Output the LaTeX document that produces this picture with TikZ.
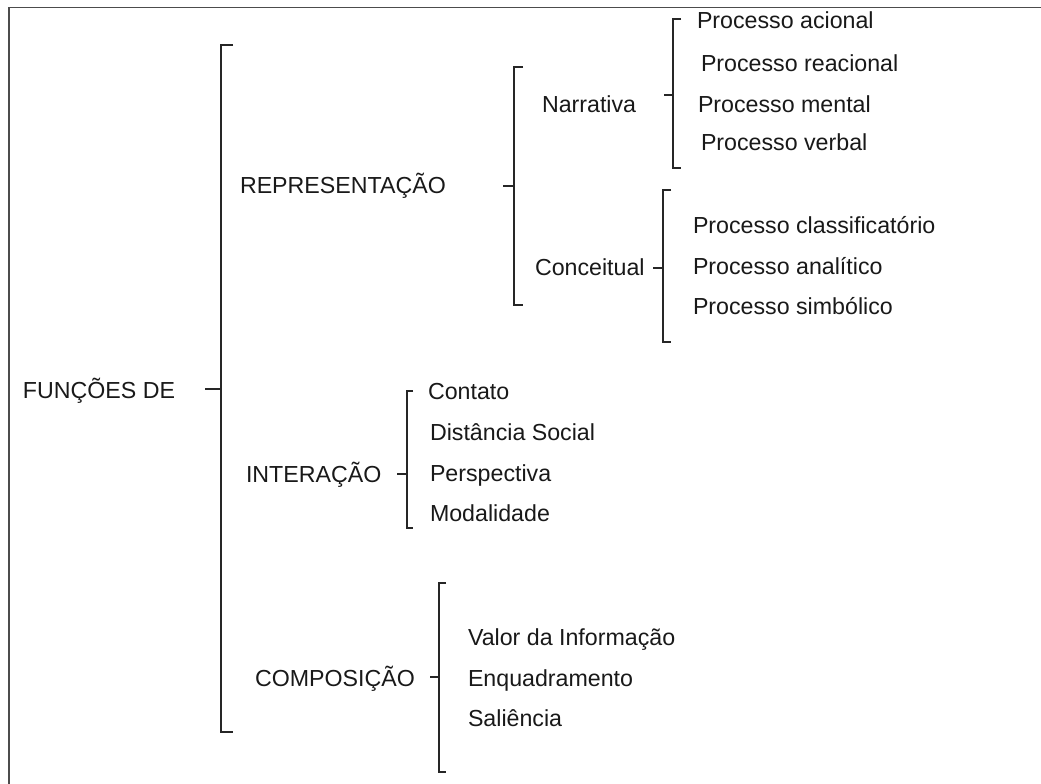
\documentclass[tikz,border=0pt]{standalone}
\usepackage{fontspec}
\setmainfont{Liberation Sans}
\tikzset{
  lbl/.style={anchor=base west, inner sep=0pt, outer sep=0pt, font=\fontsize{23.2}{27}\selectfont, text=black!90},
  brk/.style={draw=black!85, line width=1.2pt},
  frame/.style={draw=black!70, line width=1.5pt}
}
\newcommand\mybrk[6]{% x, top, bottom, mid, left, right
  \draw[brk] (#6,#2) -- (#1,#2) -- (#1,#3) -- (#6,#3);
  \draw[brk] (#5,#4) -- (#1,#4);
}
\begin{document}
\begin{tikzpicture}[x=1pt,y=-1pt]
\useasboundingbox (0,0) rectangle (1041,784);
\fill[white] (0,0) rectangle (1041,784);
% frame
\coordinate (fTL) at (9,7.5);
\coordinate (fTR) at (1041,7.5);
\coordinate (fBL) at (9,784);
\draw[frame] (fTR) -- (fTL) -- (fBL);
% texts
\node[lbl] (fun) at (23,398) {FUNÇÕES DE};
\node[lbl] (rep) at (240,193) {REPRESENTAÇÃO};
\node[lbl] (nar) at (542,112) {Narrativa};
\node[lbl] (con) at (535,275) {Conceitual};
\node[lbl] (pa) at (697,29) {Processo acional};
\node[lbl] (pr) at (701,71) {Processo reacional};
\node[lbl] (pm) at (698,112) {Processo mental};
\node[lbl] (pv) at (701,150) {Processo verbal};
\node[lbl] (pc) at (693,233) {Processo classificatório};
\node[lbl] (pan) at (693,274) {Processo analítico};
\node[lbl] (ps) at (693,314) {Processo simbólico};
\node[lbl] (int) at (246,482) {INTERAÇÃO};
\node[lbl] (cont) at (428,399) {Contato};
\node[lbl] (dist) at (430,440) {Distância Social};
\node[lbl] (pers) at (430,481) {Perspectiva};
\node[lbl] (mod) at (430,521) {Modalidade};
\node[lbl] (comp) at (255,686) {COMPOSIÇÃO};
\node[lbl] (val) at (468,645) {Valor da Informação};
\node[lbl] (enq) at (468,686) {Enquadramento};
\node[lbl] (sal) at (468,726) {Saliência};
% brackets
\mybrk{221}{45}{732}{389}{205}{233}
\mybrk{514}{67}{305}{186}{503}{523}
\mybrk{673}{19}{168}{95}{664}{681}
\mybrk{663}{190}{342}{268}{653}{671}
\mybrk{407}{391}{528}{474}{397}{413}
\mybrk{439}{583}{772}{677}{430}{446}
\end{tikzpicture}
\end{document}
